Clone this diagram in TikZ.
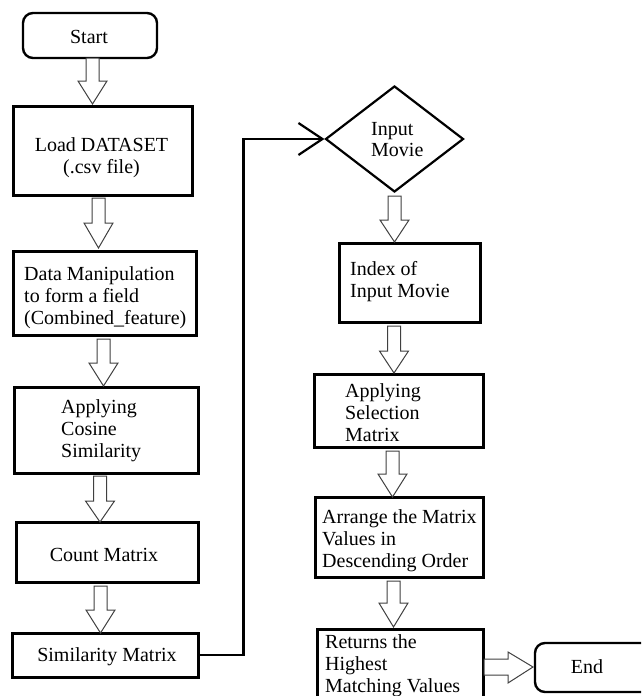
\documentclass[tikz,border=0pt]{standalone}
\usepackage{fontspec}
\setmainfont{Liberation Serif}
\usetikzlibrary{arrows.meta,shapes.geometric}

\tikzset{
  procbox/.style={draw=black, line width=3pt, inner sep=0pt, fill=white},
  termbox/.style={draw=black, line width=2.4pt, rounded corners=10pt, inner sep=0pt, fill=white},
  decbox/.style={diamond, draw=black, line width=2.2pt, inner sep=0pt},
  txt/.style={inner sep=0pt, font=\fontsize{20}{22}\selectfont, align=left, text=black},
  link/.style={draw=black, line width=2.6pt, -{Straight Barb[length=24pt, width=32pt, line width=2.2pt]}},
  hollow/.style={draw=black!75, line width=1pt, fill=white, line join=miter}
}

% hollow block arrow pointing down: {x}{top}{neck}{tip}
\newcommand{\vblock}[4]{%
  \draw[hollow] (#1-6.5,#2) -- (#1-6.5,#3) -- (#1-14.5,#3) -- (#1,#4)
    -- (#1+14.5,#3) -- (#1+6.5,#3) -- (#1+6.5,#2) -- cycle;}

\begin{document}
\begin{tikzpicture}[x=1pt, y=-1pt]
\useasboundingbox (0,0) rectangle (641,696);
\clip (0,0) rectangle (641,696);

% left column
\node[termbox, minimum width=134pt, minimum height=45pt] (start) at (90,35.5) {};
\node[procbox, minimum width=179pt, minimum height=89pt] (load) at (102.5,150.5) {};
\node[procbox, minimum width=183pt, minimum height=84pt] (data) at (104.5,293) {};
\node[procbox, minimum width=184pt, minimum height=86pt] (cosine) at (106,430) {};
\node[procbox, minimum width=182pt, minimum height=60pt] (count) at (107,552) {};
\node[procbox, minimum width=186pt, minimum height=44pt] (simil) at (105,655) {};

% right column
\node[decbox, minimum width=138pt, minimum height=106pt] (movie) at (394.5,139) {};
\node[procbox, minimum width=141pt, minimum height=79pt] (index) at (409.5,282.5) {};
\node[procbox, minimum width=169pt, minimum height=73pt] (select) at (398.5,410.5) {};
\node[procbox, minimum width=168pt, minimum height=80pt] (arrange) at (399,537) {};
\node[procbox, minimum width=166pt, minimum height=91pt] (returns) at (400,674.5) {};
\node[termbox, minimum width=125pt, minimum height=49pt] (end) at (597.5,667.5) {};

% labels (anchor=base sits on the last line's baseline)
\node[txt, anchor=base] (startT) at (89,43) {Start};
\node[txt, anchor=base, align=center] (loadT) at (101.5,173) {Load DATASET\\(.csv file)};
\node[txt, anchor=base west] (dataT) at (24,324) {Data Manipulation\\to form a field\\(Combined\_feature)};
\node[txt, anchor=base west] (cosineT) at (61,457) {Applying\\Cosine\\Similarity};
\node[txt, anchor=base] (countT) at (104,561) {Count Matrix};
\node[txt, anchor=base] (similT) at (107,661) {Similarity Matrix};
\node[txt, anchor=base west, font=\fontsize{20}{21}\selectfont] (movieT) at (371,156) {Input\\Movie};
\node[txt, anchor=base west] (indexT) at (350,297) {Index of\\Input Movie};
\node[txt, anchor=base west] (selectT) at (345,441) {Applying\\Selection\\Matrix};
\node[txt, anchor=base west] (arrangeT) at (322,567) {Arrange the Matrix\\Values in\\Descending Order};
\node[txt, anchor=base west] (returnsT) at (325,692) {Returns the\\Highest\\Matching Values};
\node[txt, anchor=base] (endT) at (587,673) {End};

% hollow flow arrows
\vblock{92.5}{58}{81}{104}
\vblock{98.5}{198}{223}{248}
\vblock{103.5}{339}{363}{386}
\vblock{100}{476}{501}{522}
\vblock{100.5}{586}{610}{633}
\vblock{394.5}{196}{220}{242}
\vblock{394}{326}{351}{373}
\vblock{392.5}{451}{474}{497}
\vblock{393.5}{581}{603}{627}
\draw[hollow] (484,659) -- (508,659) -- (508,652) -- (533,667)
  -- (508,683) -- (508,675) -- (484,675) -- cycle;

% connector from the similarity matrix to the movie input
\draw[link] (simil.east) -- ++(44,0) |- (movie.west);
\end{tikzpicture}
\end{document}
